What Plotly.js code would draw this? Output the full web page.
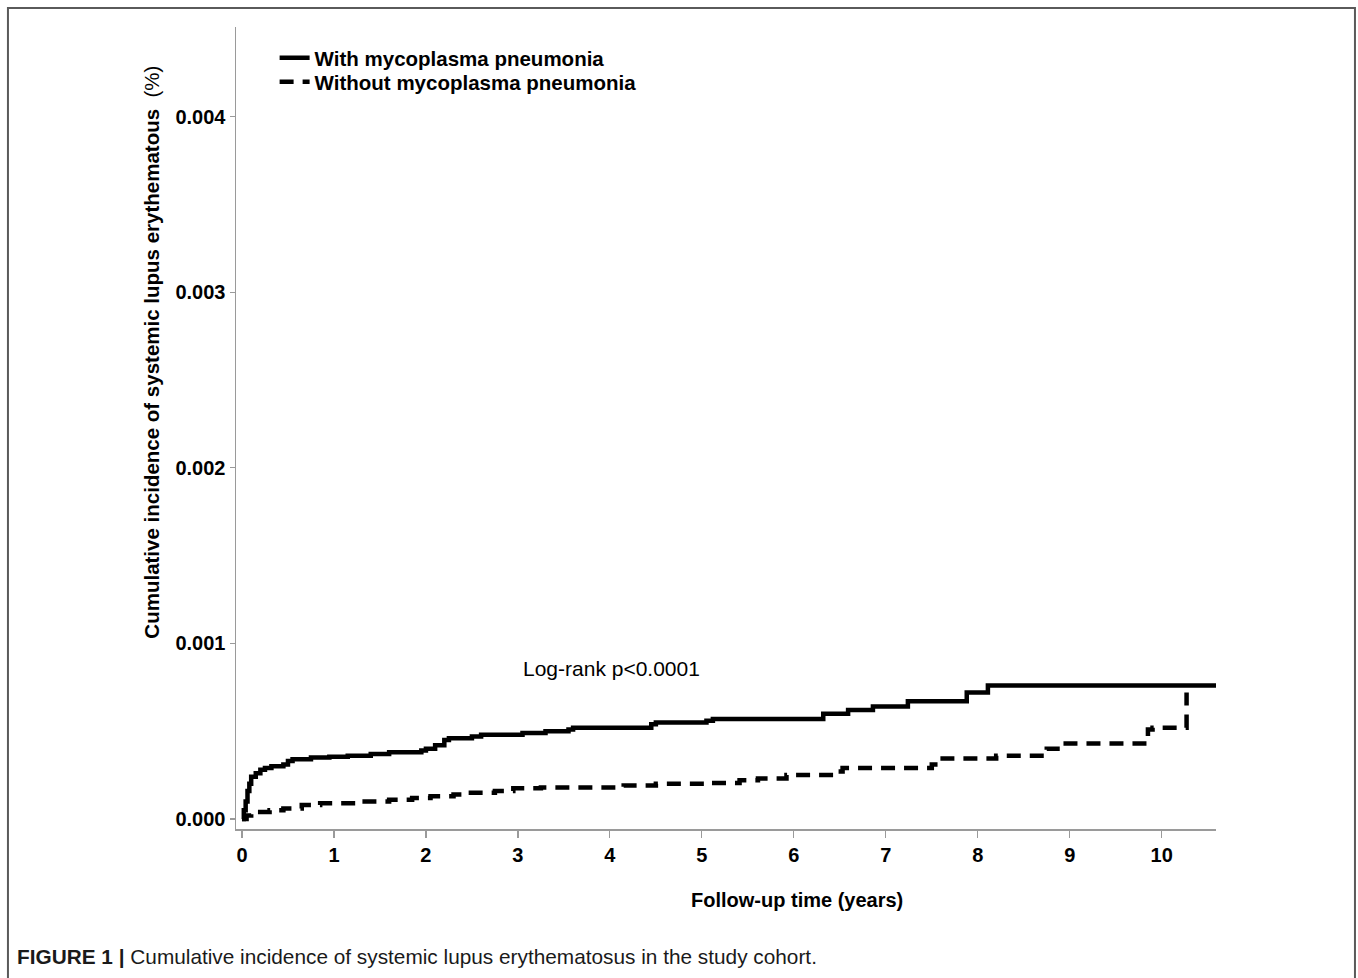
<!DOCTYPE html>
<html>
<head>
<meta charset="utf-8">
<script src="https://cdn.plot.ly/plotly-3.0.1.min.js"></script>
<style>
html,body{margin:0;padding:0;background:#fff;}
#chart{width:1358px;height:978px;}
</style>
</head>
<body>
<div id="chart"></div>
<script>
// Follow-up time (years) and cumulative incidence (%) — with mycoplasma pneumonia
const withTime = [0, 0.02, 0.04, 0.06, 0.08, 0.10, 0.15, 0.20, 0.25, 0.32, 0.45, 0.50, 0.55, 0.75, 0.95, 1.15, 1.40, 1.60, 1.95, 2.00, 2.10, 2.20, 2.25, 2.50, 2.60, 3.05, 3.30, 3.55, 3.60, 4.45, 4.50, 5.05, 5.12, 6.32, 6.59, 6.86, 7.24, 7.88, 8.11, 10.59];
const withValue = [0, 0.00005, 0.00010, 0.00016, 0.00020, 0.00024, 0.00026, 0.00028, 0.00029, 0.00030, 0.00031, 0.00033, 0.00034, 0.00035, 0.000355, 0.00036, 0.00037, 0.00038, 0.00039, 0.00040, 0.00042, 0.00045, 0.00046, 0.00047, 0.00048, 0.00049, 0.00050, 0.00051, 0.00052, 0.00054, 0.00055, 0.00056, 0.00057, 0.00060, 0.00062, 0.00064, 0.00067, 0.00072, 0.00076, 0.00076];

// Without mycoplasma pneumonia
const withoutTime = [0, 0.05, 0.10, 0.30, 0.45, 0.65, 0.85, 1.30, 1.60, 1.85, 2.05, 2.30, 2.45, 2.75, 2.95, 3.25, 4.15, 4.50, 5.06, 5.41, 5.61, 5.92, 6.43, 6.53, 7.50, 7.59, 8.20, 8.75, 8.93, 9.85, 9.90, 10.27];
const withoutValue = [0, 0.00002, 0.00004, 0.00005, 0.00006, 0.00008, 0.00009, 0.00010, 0.00011, 0.00012, 0.00013, 0.00014, 0.00015, 0.00016, 0.000175, 0.00018, 0.00019, 0.00020, 0.000205, 0.00022, 0.00023, 0.00025, 0.00027, 0.00029, 0.00031, 0.000345, 0.00036, 0.00040, 0.00043, 0.00051, 0.00052, 0.00072];

const seriesNames = ['With mycoplasma pneumonia', 'Without mycoplasma pneumonia'];
const xTicks = [0, 1, 2, 3, 4, 5, 6, 7, 8, 9, 10];
const yTicks = [0, 0.001, 0.002, 0.003, 0.004];

const FONT = 'Liberation Sans, Arial, Helvetica, sans-serif';
const legendFont = {family: FONT, size: 20.5, color: '#000', weight: 'bold'};

const traces = [
  {x: withTime, y: withValue, name: seriesNames[0], mode: 'lines', legend: 'legend',
   line: {shape: 'hv', color: '#000', width: 4.5}},
  {x: withoutTime, y: withoutValue, name: seriesNames[1], mode: 'lines', legend: 'legend2',
   line: {shape: 'hv', color: '#000', width: 4.5, dash: '14px,9px'}}
];

const layout = {
  width: 1358, height: 978,
  margin: {l: 236, r: 142, t: 27, b: 149, pad: 0},
  paper_bgcolor: '#fff', plot_bgcolor: '#fff',
  showlegend: true,
  legend: {x: 0.0394, y: 0.9865, xanchor: 'left', yanchor: 'top',
           bgcolor: 'rgba(0,0,0,0)', font: legendFont},
  legend2: {x: 0.0394, y: 0.9566, xanchor: 'left', yanchor: 'top',
           bgcolor: 'rgba(0,0,0,0)', font: legendFont},
  xaxis: {range: [-0.065, 10.59], tickvals: xTicks, ticktext: xTicks.map(String),
          showgrid: false, zeroline: false, showline: true, linecolor: '#9a9a9a', linewidth: 1.5,
          ticks: 'outside', ticklen: 7, tickcolor: '#9a9a9a', tickwidth: 1.2,
          tickfont: {family: FONT, size: 20, color: '#000', weight: 'bold'}},
  yaxis: {range: [-0.000057, 0.00451], tickvals: yTicks, tickformat: '.3f',
          showgrid: false, zeroline: false, showline: true, linecolor: '#9a9a9a', linewidth: 1.5,
          ticks: 'outside', ticklen: 5, tickcolor: '#9a9a9a', tickwidth: 1.2,
          tickfont: {family: FONT, size: 20, color: '#000', weight: 'bold'}},
  annotations: [
    {text: 'Log-rank p<0.0001', x: 4.02, y: 0.000855, xref: 'x', yref: 'y',
     showarrow: false, font: {family: FONT, size: 21, color: '#000'}},
    {text: '<b>Cumulative incidence of systemic lupus erythematous</b>  (%)', textangle: -90,
     x: -0.0857, y: 0.594, xref: 'paper', yref: 'paper', xanchor: 'center', yanchor: 'middle',
     showarrow: false, font: {family: FONT, size: 20.5, color: '#000'}},
    {text: '<b>Follow-up time (years)</b>', x: 0.5724, y: -0.0885, xref: 'paper', yref: 'paper',
     xanchor: 'center', yanchor: 'middle', showarrow: false,
     font: {family: FONT, size: 20, color: '#000'}},
    {text: '<b>FIGURE 1 |</b> Cumulative incidence of systemic lupus erythematosus in the study cohort.',
     x: -0.2255, y: -0.1596, xref: 'paper', yref: 'paper', xanchor: 'left', yanchor: 'middle',
     showarrow: false, font: {family: FONT, size: 20.8, color: '#1a1a1a'}}
  ],
  shapes: [
    {type: 'path', xref: 'paper', yref: 'paper',
     path: 'M -0.2327 -0.19 L -0.2327 1.0237 L 1.1418 1.0237 L 1.1418 -0.19',
     line: {color: '#5a5a5a', width: 2}}
  ]
};

Plotly.newPlot('chart', traces, layout, {displayModeBar: false, staticPlot: true});
</script>
</body>
</html>
